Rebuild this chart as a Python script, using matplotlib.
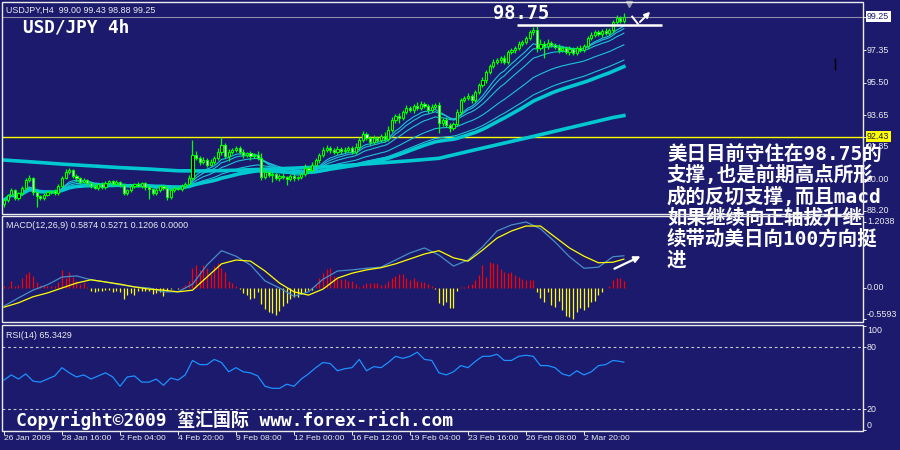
import matplotlib
matplotlib.use("Agg")
import matplotlib.pyplot as plt
from matplotlib.patches import Rectangle
from matplotlib import transforms
import numpy as np
import pandas as pd

# USDJPY H4, 26 Jan - 4 Mar 2009
first_open = 88.60
closes = [
    88.81, 89.10, 89.38, 88.93, 89.21, 89.50, 89.95, 90.07, 89.27, 89.04, 88.93, 89.10, 89.27, 89.33, 89.21, 89.61,
    90.07, 90.41, 90.52, 90.18, 90.07, 89.84, 89.95, 89.78, 89.61, 89.50, 89.73, 89.55, 89.78, 89.90, 89.73, 89.84,
    89.67, 89.21, 89.38, 89.61, 89.73, 89.61, 89.78, 89.55, 89.44, 89.21, 89.38, 89.61, 89.50, 88.99, 89.38, 89.50,
    89.44, 89.61, 89.73, 90.07, 91.38, 91.21, 90.98, 91.09, 90.81, 90.98, 91.21, 91.55, 91.94, 91.32, 91.55, 91.66,
    91.77, 91.55, 91.38, 91.49, 91.32, 91.38, 91.21, 90.12, 90.41, 90.24, 90.29, 90.07, 90.18, 90.12, 90.01, 90.18,
    90.07, 90.12, 90.29, 90.64, 90.52, 90.81, 91.09, 91.38, 91.66, 91.77, 91.66, 91.55, 91.72, 91.60, 91.66, 91.77,
    91.55, 91.83, 92.23, 92.57, 92.34, 92.12, 92.34, 92.23, 92.46, 92.29, 92.80, 93.37, 93.59, 93.48, 93.82, 94.05,
    93.94, 94.16, 94.05, 94.28, 94.16, 93.94, 94.11, 94.22, 93.20, 93.37, 93.08, 92.91, 93.14, 93.82, 94.50, 94.62,
    94.73, 94.50, 94.96, 95.36, 95.64, 96.10, 96.44, 96.67, 96.78, 96.90, 96.67, 97.24, 97.35, 97.46, 97.69, 97.81,
    98.03, 98.37, 98.49, 97.46, 97.69, 97.58, 97.75, 97.63, 97.52, 97.35, 97.46, 97.24, 97.41, 97.18, 97.46, 97.35,
    97.58, 98.03, 98.20, 98.37, 98.26, 98.43, 98.32, 98.49, 98.94, 99.17, 99.00, 99.25,
]
# wick lengths above / below the body, in hundredths of a yen
wick_hi = [
    12, 8, 10, 6, 8, 10, 12, 15, 8, 6, 8, 10, 6, 8, 12, 10,
    10, 15, 12, 8, 10, 8, 12, 6, 8, 10, 8, 12, 10, 8, 6, 10,
    8, 10, 6, 12, 8, 10, 8, 6, 10, 8, 12, 8, 6, 10, 8, 12,
    8, 10, 12, 15, 85, 20, 12, 15, 10, 18, 12, 20, 46, 12, 15, 10,
    12, 10, 15, 8, 12, 10, 20, 30, 15, 10, 12, 8, 10, 15, 8, 12,
    10, 8, 12, 20, 10, 15, 12, 10, 20, 15, 10, 12, 15, 10, 20, 12,
    10, 25, 15, 18, 12, 10, 15, 12, 10, 20, 25, 15, 12, 20, 10, 15,
    12, 10, 25, 15, 12, 10, 15, 10, 20, 12, 15, 10, 12, 15, 12, 10,
    15, 12, 10, 12, 15, 10, 12, 15, 10, 12, 15, 10, 12, 10, 15, 12,
    10, 12, 17, 25, 30, 15, 20, 12, 10, 15, 12, 10, 15, 12, 10, 15,
    12, 10, 15, 12, 10, 12, 15, 10, 12, 15, 10, 18,
]
wick_lo = [
    18, 10, 8, 12, 10, 8, 12, 10, 15, 60, 12, 10, 8, 12, 10, 8,
    10, 8, 12, 10, 15, 10, 8, 12, 10, 8, 12, 10, 8, 12, 10, 8,
    10, 12, 8, 10, 12, 8, 10, 15, 55, 10, 12, 8, 10, 15, 12, 10,
    8, 10, 12, 8, 10, 12, 15, 10, 12, 8, 10, 12, 15, 10, 30, 12,
    10, 12, 15, 10, 25, 12, 10, 15, 12, 10, 40, 12, 15, 10, 35, 12,
    15, 10, 12, 10, 15, 12, 10, 15, 12, 10, 15, 12, 10, 15, 12, 10,
    12, 10, 15, 12, 10, 15, 12, 10, 12, 15, 10, 12, 15, 30, 10, 12,
    10, 15, 12, 10, 12, 15, 10, 12, 57, 15, 12, 20, 10, 12, 15, 10,
    12, 15, 10, 12, 10, 15, 12, 10, 12, 15, 10, 12, 10, 15, 12, 10,
    12, 10, 15, 20, 12, 70, 15, 12, 10, 15, 12, 10, 15, 12, 10, 12,
    10, 15, 12, 10, 12, 15, 10, 12, 15, 10, 12, 12,
]

# long moving average (carries history from before the window)
ma_slow_bars = list(range(0, 169, 8)) + [171]
ma_slow = [91.09, 90.98, 90.86, 90.76, 90.66, 90.58, 90.48, 90.47, 90.51, 90.57, 90.63, 90.70,
           90.81, 90.93, 91.05, 91.19, 91.58, 91.96, 92.34, 92.73, 93.12, 93.51, 93.62]
ema_thin = [9, 12, 18, 34, 55]
ema_thick = 65

macd_bars = list(range(0, 169, 4)) + [171]
macd_main = [-0.33, -0.18, -0.04, 0.06, 0.20, 0.22, 0.15, 0.11, 0.06, 0.02, 0.00, -0.07, -0.07, 0.07, 0.42,
             0.68, 0.58, 0.42, 0.13, 0.00, -0.15, -0.07, 0.16, 0.31, 0.33, 0.36, 0.38, 0.51, 0.64, 0.73,
             0.60, 0.40, 0.51, 0.75, 1.04, 1.15, 1.2038, 1.08, 0.84, 0.57, 0.36, 0.38, 0.57, 0.5874]
macd_signal = [-0.35, -0.27, -0.16, -0.09, 0.00, 0.09, 0.15, 0.11, 0.07, 0.02, -0.02, -0.04, -0.07, -0.04, 0.20,
               0.44, 0.51, 0.49, 0.31, 0.09, -0.07, -0.13, -0.02, 0.18, 0.27, 0.33, 0.37, 0.44, 0.53, 0.62,
               0.68, 0.55, 0.49, 0.69, 0.91, 1.04, 1.13, 1.13, 0.93, 0.73, 0.58, 0.46, 0.47, 0.5271]
macd_hist = [
    0.04, 0.02, 0.13, 0.03, 0.05, 0.19, 0.25, 0.29, 0.22, 0.11, 0.05, 0.04, 0.04, 0.04, 0.04, 0.11,
    0.33, 0.18, 0.29, 0.20, 0.12, 0.08, 0.11, 0.02, -0.06, -0.07, -0.05, -0.05, -0.04, -0.03, -0.07, -0.06,
    -0.08, -0.20, -0.12, -0.09, -0.12, -0.06, -0.06, -0.06, -0.06, -0.11, -0.09, -0.08, -0.14, -0.05, -0.02, 0.00,
    -0.02, 0.02, 0.05, 0.13, 0.36, 0.42, 0.33, 0.42, 0.36, 0.26, 0.40, 0.46, 0.37, 0.29, 0.12, 0.10,
    0.04, -0.02, -0.09, -0.13, -0.20, -0.18, -0.08, -0.30, -0.38, -0.44, -0.46, -0.49, -0.42, -0.33, -0.27, -0.20,
    -0.16, -0.16, -0.11, -0.07, -0.04, -0.03, 0.05, 0.18, 0.27, 0.35, 0.36, 0.22, 0.18, 0.16, 0.16, 0.13,
    0.13, 0.07, 0.02, 0.05, 0.10, 0.10, 0.09, 0.09, 0.05, 0.07, 0.13, 0.18, 0.22, 0.25, 0.25, 0.18,
    0.15, 0.18, 0.13, 0.11, 0.11, 0.07, 0.03, -0.02, -0.27, -0.31, -0.25, -0.37, -0.36, -0.05, 0.02, 0.02,
    0.05, 0.07, 0.15, 0.24, 0.42, 0.20, 0.47, 0.46, 0.44, 0.35, 0.29, 0.28, 0.29, 0.24, 0.20, 0.17,
    0.15, 0.15, 0.15, -0.07, -0.18, -0.25, -0.07, -0.31, -0.34, -0.24, -0.40, -0.51, -0.53, -0.5593, -0.44, -0.37,
    -0.40, -0.35, -0.25, -0.24, -0.13, -0.07, 0.00, 0.03, 0.15, 0.18, 0.18, 0.1206,
]

rsi_bars = list(range(0, 171, 2)) + [171]
rsi_vals = [
    48, 53, 49, 54, 47, 46, 49, 52, 60, 55, 51, 53, 49, 52, 55, 51,
    42, 51, 52, 46, 46, 49, 43, 50, 48, 53, 67, 63, 63, 68, 65, 56,
    60, 56, 55, 52, 42, 40, 40, 44, 42, 49, 54, 60, 65, 64, 57, 59,
    60, 68, 57, 61, 60, 65, 71, 69, 71, 75, 68, 67, 55, 53, 56, 62,
    60, 66, 71, 71, 73, 67, 67, 71, 72, 71, 62, 62, 60, 54, 52, 57,
    53, 56, 62, 63, 67, 66, 65.3429,
]

time_ticks = list(range(0, 161, 16))
time_labels = ["26 Jan 2009", "28 Jan 16:00", "2 Feb 04:00", "4 Feb 20:00", "9 Feb 08:00", "12 Feb 00:00",
               "16 Feb 12:00", "19 Feb 04:00", "23 Feb 16:00", "26 Feb 08:00", "2 Mar 20:00"]
price_ticks = [97.35, 95.50, 93.65, 91.85, 90.00, 88.20]
last_price = 99.25
support_line = 92.43
resistance = 98.75

note_lines = ["美日目前守住在98.75的", "支撑,也是前期高点所形", "成的反切支撑,而且macd",
              "如果继续向正轴拔升继", "续带动美日向100方向挺", "进"]

BG = "#1b1a6d"
FG = "#ececec"
GREEN = "#00ff00"
CYAN = "#00c8d0"
CYAN_THIN = "#1cc4d8"
W, H = 900.0, 450.0
MONO = ["DejaVu Sans Mono", "Noto Sans CJK SC"]
SMALL_FONT = 6.4

fig = plt.figure(figsize=(9, 4.5), dpi=100, facecolor=BG)


def panel(top, bottom):
    return [2 / W, 1 - bottom / H, 861 / W, (bottom - top) / H]


rows = [(1.5, 213.5), (216, 321.5), (325, 430.5)]
ax_p = fig.add_axes(panel(*rows[0]))
ax_m = fig.add_axes(panel(*rows[1]))
ax_r = fig.add_axes(panel(*rows[2]))

for ax in (ax_p, ax_m, ax_r):
    ax.set_facecolor(BG)
    ax.set_xlim(-0.55, 236.97)
    for s in ax.spines.values():
        s.set_visible(False)
    ax.yaxis.tick_right()
    ax.tick_params(axis="y", colors=FG, length=2.5, width=0.7, labelright=False)
    ax.tick_params(axis="x", bottom=False, labelbottom=False)


def right_label(ax, y, s, va="center", **kw):
    tr = transforms.offset_copy(ax.get_yaxis_transform(), fig=fig, x=4, y=0, units="dots")
    ax.text(1.0, y, s, transform=tr, ha="left", va=va, fontsize=SMALL_FONT, color=kw.pop("color", FG),
            family="Liberation Sans", clip_on=False, **kw)


# ---- price panel ----
x = np.arange(len(closes))
c = np.array(closes)
o = np.r_[first_open, c[:-1]]
hi = np.maximum(o, c) + np.array(wick_hi) / 100
lo = np.minimum(o, c) - np.array(wick_lo) / 100
up = c >= o

s = pd.Series(closes)
for span in ema_thin:
    ax_p.plot(x, s.ewm(span=span).mean(), color=CYAN_THIN, lw=0.8, zorder=2)
ax_p.plot(x, s.ewm(span=ema_thick).mean(), color=CYAN, lw=2.6, zorder=3)
ax_p.plot(ma_slow_bars, ma_slow, color=CYAN, lw=2.6, zorder=3)

ax_p.vlines(x, lo, hi, color=GREEN, lw=0.9, zorder=4)
ax_p.bar(x, np.maximum(np.abs(c - o), 0.02), bottom=np.minimum(o, c), width=0.6,
         color=np.where(up, "#000000", "#ffffff"), edgecolor=GREEN, lw=0.8, zorder=5)

ax_p.axhline(last_price, color="#8e8eaa", lw=0.8, zorder=1)
ax_p.axhline(support_line, color="#ffff00", lw=1.0, zorder=1)
ax_p.set_ylim(88.05, 100.11)
ax_p.set_yticks(price_ticks + [last_price, support_line])
for p in price_ticks:
    right_label(ax_p, p, f"{p:.2f}")
right_label(ax_p, last_price, f"{last_price:.2f}", color=BG,
            bbox=dict(boxstyle="square,pad=0.15", fc="white", ec="none"))
right_label(ax_p, support_line, f"{support_line:.2f}", color="#1b1a40",
            bbox=dict(boxstyle="square,pad=0.15", fc="#ffff00", ec="none"))

# 98.75 support mark with hand-drawn tick arrow
ax_p.hlines(resistance, 141.5, 181.5, color="white", lw=1.8, zorder=6)
ax_p.text(134.9, 99.42, f"{resistance:.2f}", color="white", fontsize=13.5, fontweight="bold",
          family="DejaVu Sans Mono", ha="left", va="center", zorder=6)
ax_p.plot([173.3, 174.9], [99.25, 98.83], color="white", lw=1.4, zorder=6)
ax_p.annotate("", xy=(178.8, 99.64), xytext=(174.9, 98.83), zorder=6,
              arrowprops=dict(arrowstyle="-|>", color="white", lw=1.4, mutation_scale=8))
ax_p.vlines(229.2, 96.21, 96.90, color="black", lw=1.0)
ax_p.plot([172.4], [0.988], marker="v", ms=5, color="#9a9aa8", transform=ax_p.get_xaxis_transform(),
          clip_on=False)

# ---- MACD panel ----
h = np.array(macd_hist)
ax_m.vlines(x, 0, h, colors=np.where(h >= 0, "#ff0000", "#ffff00"), lw=0.9)
ax_m.plot(macd_bars, macd_main, color="#4a8cc8", lw=0.9)
ax_m.plot(macd_bars, macd_signal, color="#ffff00", lw=0.9)
ax_m.set_ylim(-0.611, 1.313)
ax_m.set_yticks([1.2038, 0.0, -0.5593])
right_label(ax_m, 1.2038, "1.2038")
right_label(ax_m, 0.0, "0.00")
right_label(ax_m, -0.5593, "-0.5593", va="bottom")
ax_m.annotate("", xy=(176.3, 0.60), xytext=(167.7, 0.33),
              arrowprops=dict(arrowstyle="-|>", color="white", lw=1.6, mutation_scale=9))

# ---- RSI panel ----
ax_r.plot(rsi_bars, rsi_vals, color="#1e90ff", lw=0.9)
for lvl in (80, 20):
    ax_r.axhline(lvl, color="#c8c8d0", lw=0.8, ls=(0, (2.5, 2.5)))
ax_r.set_ylim(-0.8, 101.3)
ax_r.set_yticks([100, 80, 20, 0])
right_label(ax_r, 100, "100", va="top")
right_label(ax_r, 80, "80")
right_label(ax_r, 20, "20")
right_label(ax_r, 0, "0", va="bottom")

ax_r.set_xticks(time_ticks)
ax_r.tick_params(axis="x", bottom=True, length=3, width=0.7, color=FG, labelbottom=False)
tr_time = transforms.offset_copy(ax_r.get_xaxis_transform(), fig=fig, x=0, y=-5, units="dots")
for t, lab in zip(time_ticks, time_labels):
    ax_r.text(t, 0, lab, transform=tr_time, ha="left", va="top", fontsize=6.1, color=FG,
              family="Liberation Sans", clip_on=False)

# ---- headers and notes ----
small = dict(fontsize=SMALL_FONT, color=FG, family="Liberation Sans", va="center", ha="left")
fig.text(6 / W, 1 - 10 / H, "USDJPY,H4  99.00 99.43 98.88 99.25", **small)
fig.text(6 / W, 1 - 225 / H, "MACD(12,26,9) 0.5874 0.5271 0.1206 0.0000", **small)
fig.text(6 / W, 1 - 335 / H, "RSI(14) 65.3429", **small)

fig.text(23 / W, 1 - 28 / H, "USD/JPY 4h", color="white", fontsize=12.8, fontweight="bold",
         family=MONO, va="center", ha="left", zorder=5)
fig.text(16 / W, 1 - 420 / H, "Copyright©2009 玺汇国际 www.forex-rich.com", color="white", fontsize=12.9,
         fontweight="bold", family=MONO, va="center", ha="left", zorder=5)
for k, line in enumerate(note_lines):
    fig.text(667 / W, 1 - (154 + 21.3 * k) / H, line, color="white", fontsize=14, fontweight="bold",
             family=MONO, va="center", ha="left", zorder=5)

# panel frames sit on top of the notes
for top, bottom in rows:
    fig.add_artist(Rectangle((2 / W, 1 - bottom / H), 861 / W, (bottom - top) / H, transform=fig.transFigure,
                             fill=False, edgecolor=FG, lw=1.0, zorder=6))

fig.savefig("out.png", dpi=100, facecolor=BG)
plt.close(fig)
